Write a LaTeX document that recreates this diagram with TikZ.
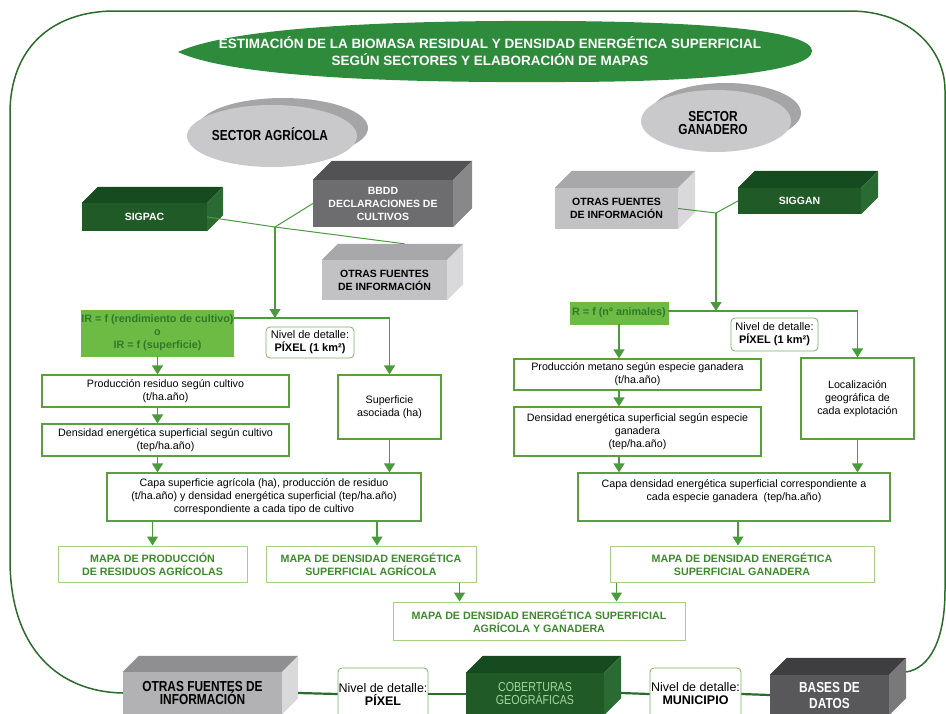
\documentclass[tikz,border=0pt]{standalone}
\usepackage{fontspec}
\setmainfont{Liberation Sans}
\newfontfamily\narrowfont[FakeStretch=0.82]{Liberation Sans}
\usetikzlibrary{arrows.meta,shapes.geometric,calc,positioning}

\definecolor{frameline}{HTML}{2B6B2B}
\definecolor{flowline}{HTML}{4A9A3E}
\definecolor{boxline}{HTML}{5B9E3F}
\definecolor{mapline}{HTML}{A5CF85}
\definecolor{maptext}{HTML}{3D8A2C}
\definecolor{irfill}{HTML}{6DBB45}
\definecolor{irtext}{HTML}{2F7A28}
\definecolor{titlefill}{HTML}{2E8B3C}
\definecolor{leaffront}{HTML}{1F5A27}
\definecolor{leaftop}{HTML}{164A1F}
\definecolor{leafside}{HTML}{2A6B33}
\definecolor{darkfront}{HTML}{6D6D70}
\definecolor{darktop}{HTML}{525254}
\definecolor{darkside}{HTML}{88888A}
\definecolor{lightfront}{HTML}{C2C2C4}
\definecolor{lighttop}{HTML}{A8A8AA}
\definecolor{lightside}{HTML}{D9D9DB}
\definecolor{basefront}{HTML}{58585A}
\definecolor{basetop}{HTML}{3E3E40}
\definecolor{baseside}{HTML}{79797B}
\definecolor{discfront}{HTML}{C9C9CB}
\definecolor{discback}{HTML}{A5A5A7}
\definecolor{cobertext}{HTML}{A8D5A0}

% top and side faces of a block: node, depth, top colour, side colour
\newcommand{\boxsides}[4]{%
  \fill[#3] (#1.north west) -- ++(#2,-#2) -- ($(#1.north east)+(#2,-#2)$) -- (#1.north east) -- cycle;
  \fill[#4] (#1.north east) -- ++(#2,-#2) -- ($(#1.south east)+(#2,-#2)$) -- (#1.south east) -- cycle;
}

\begin{document}
\begin{tikzpicture}[x=1pt, y=-1pt,
    every node/.style={inner sep=0pt, align=center},
    txt/.style={font=\fontsize{10.7}{13}\selectfont},
    stepbox/.style={draw=boxline, line width=1.2pt, fill=white, txt},
    mapbox/.style={draw=mapline, line width=1pt, fill=white, text=maptext,
      font=\bfseries\fontsize{10.7}{13}\selectfont},
    levelbox/.style={draw=boxline!80, line width=0.8pt, rounded corners=4pt, fill=white},
    block/.style={font=\bfseries\fontsize{10.5}{13}\selectfont},
    disc/.style={ellipse, fill=discfront},
    flow/.style={draw=flowline, line width=1.2pt, -{Triangle[width=11pt,length=9pt]}},
    link/.style={draw=flowline, line width=1pt},
    baseline/.style={draw=frameline, line width=2.2pt}
  ]
  \useasboundingbox (0,0) rectangle (946,713);
  \clip (0,0) rectangle (946,713);

  % title
  \fill[titlefill] (178,52) .. controls (230,28) and (380,20) .. (560,21)
    .. controls (720,22) and (812,32) .. (812,51)
    .. controls (812,70) and (720,82) .. (560,82)
    .. controls (380,83) and (230,76) .. (178,52) -- cycle;
  \node[text=white, font=\bfseries\fontsize{13.5}{17}\selectfont] (title) at (490,51.5)
    {ESTIMACIÓN DE LA BIOMASA RESIDUAL Y DENSIDAD ENERGÉTICA SUPERFICIAL\\SEGÚN SECTORES Y ELABORACIÓN DE MAPAS};

  % sectors
  \fill[discback] (283,128) ellipse [x radius=85pt, y radius=30pt];
  \node[disc, minimum width=170pt, minimum height=62pt] (agri) at (272,136) {};
  \node[font=\narrowfont\bfseries\fontsize{14.5}{13.5}\selectfont] (agritxt) at (270,134) {SECTOR AGRÍCOLA};
  \fill[discback] (726,113) ellipse [x radius=75pt, y radius=30pt];
  \node[disc, minimum width=150pt, minimum height=62pt] (gana) at (716,121) {};
  \node[font=\narrowfont\bfseries\fontsize{14.5}{13.5}\selectfont] (ganatxt) at (713,123) {SECTOR\\GANADERO};

  % sources, agricultural side
  \node[block, fill=leaffront, text=white, minimum width=125pt, minimum height=28pt] (sigpac) at (144.5,217) {SIGPAC};
  \boxsides{sigpac}{16}{leaftop}{leafside}
  \node[block, fill=darkfront, text=white, minimum width=140pt, minimum height=47pt] (bbdd) at (383,203.5) {BBDD\\DECLARACIONES DE\\CULTIVOS};
  \boxsides{bbdd}{19}{darktop}{darkside}
  \node[block, fill=lightfront, minimum width=125pt, minimum height=40pt] (otrasA) at (384.5,280) {OTRAS FUENTES\\DE INFORMACIÓN};
  \boxsides{otrasA}{16}{lighttop}{lightside}

  % sources, livestock side
  \node[block, fill=lightfront, minimum width=123pt, minimum height=41pt] (otrasG) at (616.5,208.5) {OTRAS FUENTES\\DE INFORMACIÓN};
  \boxsides{otrasG}{17}{lighttop}{lightside}
  \node[block, fill=leaffront, text=white, minimum width=123pt, minimum height=26pt] (siggan) at (799.5,201) {SIGGAN};
  \boxsides{siggan}{17}{leaftop}{leafside}

  \coordinate (jA) at (275,227);
  \coordinate (hA) at (275,318);
  \coordinate (jG) at (716,213);
  \coordinate (hG) at (716,311);

  \draw [link] (sigpac.east) to (jA) to ($(otrasA.north)+(20,-16)$);
  \draw [link] (bbdd.west) to (jA);
  \draw [link] (otrasG.east) to (jG);
  \draw [link] (siggan.west) to (jG);

  % agricultural chain
  \node[draw=irfill, fill=irfill, text=irtext, font=\bfseries\fontsize{10.8}{13}\selectfont,
    minimum width=151pt, minimum height=46pt] (irA) at (157.5,333)
    {IR = f (rendimiento de cultivo)\\o\\IR = f (superficie)};
  \node[levelbox, font=\fontsize{11}{13}\selectfont, minimum width=88pt, minimum height=31pt] (nivA) at (310,342.5)
    {Nivel de detalle:\\\textbf{PÍXEL (1 km²)}};
  \node[stepbox, minimum width=247pt, minimum height=32pt] (prodA) at (165.5,391)
    {Producción residuo según cultivo\\(t/ha.año)};
  \node[stepbox, minimum width=247pt, minimum height=32pt] (densA) at (165.5,440)
    {Densidad energética superficial según cultivo\\(tep/ha.año)};
  \node[stepbox, minimum width=103pt, minimum height=64pt] (supA) at (389.5,407)
    {Superficie\\asociada (ha)};
  \node[stepbox, minimum width=314pt, minimum height=48pt] (capaA) at (264,497)
    {Capa superficie agrícola (ha), producción de residuo\\(t/ha.año) y densidad energética superficial (tep/ha.año)\\correspondiente a cada tipo de cultivo};
  \node[mapbox, minimum width=189pt, minimum height=36pt] (mapaProd) at (152.5,564)
    {MAPA DE PRODUCCIÓN\\DE RESIDUOS AGRÍCOLAS};
  \node[mapbox, minimum width=210pt, minimum height=36pt] (mapaDensA) at (371,564)
    {MAPA DE DENSIDAD ENERGÉTICA\\SUPERFICIAL AGRÍCOLA};

  \draw [flow] (jA) to (hA);
  \draw [flow] (irA.east |- hA) -| (supA.north);
  \draw [flow] (irA.south) to (irA.south |- prodA.north);
  \draw [flow] (irA.south |- prodA.south) to (irA.south |- densA.north);
  \draw [flow] (irA.south |- densA.south) to (irA.south |- capaA.north);
  \draw [flow] (supA.south) to (supA.south |- capaA.north);
  \draw [flow] (mapaProd.north |- capaA.south) to (mapaProd.north);
  \coordinate (cA) at ($(mapaDensA.north)+(6,0)$);
  \draw [flow] (cA |- capaA.south) to (cA);

  % livestock chain
  \node[draw=irfill, fill=irfill, text=irtext, font=\bfseries\fontsize{10.8}{13}\selectfont,
    minimum width=98pt, minimum height=22pt] (rG) at (619,313) {R = f (nº animales)};
  \node[levelbox, font=\fontsize{11}{13}\selectfont, minimum width=87pt, minimum height=33pt] (nivG) at (774.5,334.5)
    {Nivel de detalle:\\\textbf{PÍXEL (1 km²)}};
  \node[stepbox, minimum width=247pt, minimum height=31pt] (prodG) at (637.5,374.5)
    {Producción metano según especie ganadera\\(t/ha.año)};
  \node[stepbox, minimum width=247pt, minimum height=49pt] (densG) at (637.5,431.5)
    {Densidad energética superficial según especie\\ganadera\\(tep/ha.año)};
  \node[stepbox, minimum width=113pt, minimum height=81pt] (locG) at (857.5,398.5)
    {Localización\\geográfica de\\cada explotación};
  \node[stepbox, minimum width=312pt, minimum height=48pt] (capaG) at (734,497)
    {Capa densidad energética superficial correspondiente a\\cada especie ganadera\ \ (tep/ha.año)\\~};
  \node[mapbox, minimum width=264pt, minimum height=36pt] (mapaDensG) at (742,564)
    {MAPA DE DENSIDAD ENERGÉTICA\\SUPERFICIAL GANADERA};

  \draw [flow] (jG) to (hG);
  \draw [flow] (rG.east |- hG) -| (locG.north);
  \draw [flow] (rG.south) to (rG.south |- prodG.north);
  \draw [flow] (rG.south |- prodG.south) to (rG.south |- densG.north);
  \draw [flow] (rG.south |- densG.south) to (rG.south |- capaG.north);
  \draw [flow] (locG.south) to (locG.south |- capaG.north);
  \coordinate (cG) at ($(mapaDensG.north)+(-4,0)$);
  \draw [flow] (cG |- capaG.south) to (cG);

  % joint map
  \node[mapbox, minimum width=292pt, minimum height=38pt] (mapaTotal) at (539,621)
    {MAPA DE DENSIDAD ENERGÉTICA SUPERFICIAL\\AGRÍCOLA Y GANADERA};
  \coordinate (dA) at ($(mapaDensA.south east)+(-17,0)$);
  \coordinate (dG) at ($(mapaDensG.south west)+(7,0)$);
  \draw [flow] (dA) to (dA |- mapaTotal.north);
  \draw [flow] (dG) to (dG |- mapaTotal.north);

  % bottom row
  \node[fill=lightfront!92!black, font=\narrowfont\bfseries\fontsize{14.5}{12.5}\selectfont,
    minimum width=159pt, minimum height=42pt] (otrasB) at (202.5,693) {OTRAS FUENTES DE\\INFORMACIÓN};
  \boxsides{otrasB}{16}{lighttop!85!black}{lightside}
  \node[levelbox, font=\fontsize{12.5}{13}\selectfont, minimum width=90pt, minimum height=52pt] (nivPix) at (383,694)
    {Nivel de detalle:\\\textbf{PÍXEL}};
  \node[fill=leaffront, text=cobertext, font=\narrowfont\fontsize{13}{13}\selectfont,
    minimum width=138pt, minimum height=42pt] (cober) at (535,694) {COBERTURAS\\GEOGRÁFICAS};
  \boxsides{cober}{17}{leaftop}{leafside}
  \node[levelbox, font=\fontsize{12.5}{13}\selectfont, minimum width=91pt, minimum height=52pt] (nivMun) at (695.5,694)
    {Nivel de detalle:\\\textbf{MUNICIPIO}};
  \node[fill=basefront, text=white, font=\narrowfont\bfseries\fontsize{14.5}{16}\selectfont,
    minimum width=119pt, minimum height=40pt] (bases) at (829.5,695) {BASES DE\\DATOS};
  \boxsides{bases}{17}{basetop}{baseside}

  \draw [baseline] ($(otrasB.east)+(16,0)$) to (nivPix.west);
  \draw [baseline] (nivPix.east) to (cober.west);
  \draw [baseline] ($(cober.east)+(17,-1)$) to (nivMun.west);
  \draw [baseline] (nivMun.east) to (bases.west);

  % frame
  \draw[frameline, line width=1.5pt] (otrasB.west) .. controls (60,692) and (10,650) .. (10,560)
    -- (10,113) .. controls (10,50) and (50,11) .. (115,11) -- (850,11)
    .. controls (910,11) and (945,50) .. (945,90) -- (945,590)
    .. controls (945,640) and (930,668) .. ($(bases.east)+(17,-23)$);
\end{tikzpicture}
\end{document}
